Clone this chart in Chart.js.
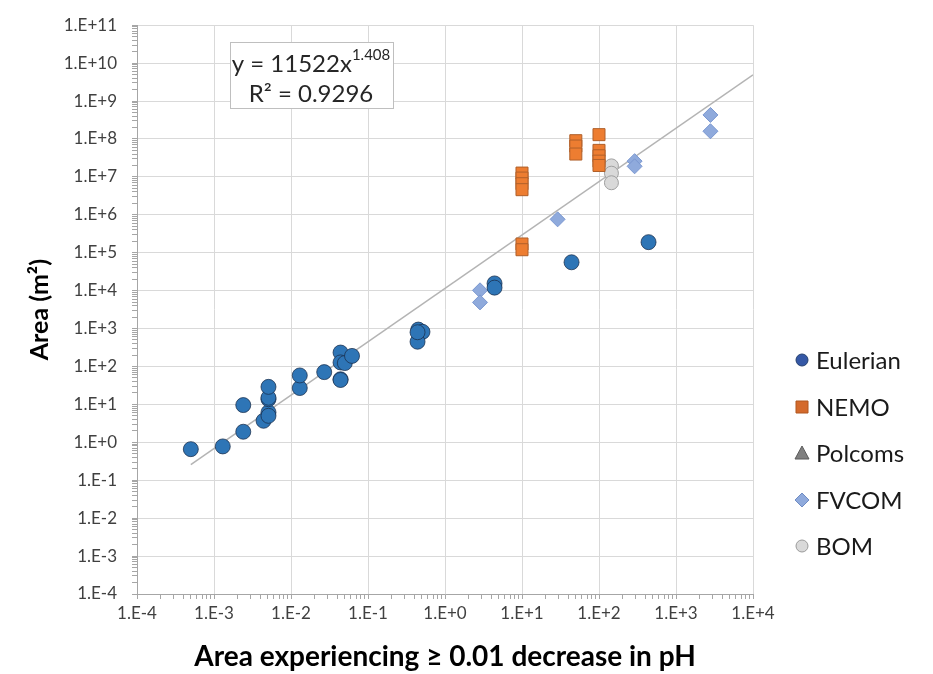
<!DOCTYPE html>
<html>
<head>
<meta charset="utf-8">
<title>Area vs decrease in pH</title>
<script src="https://cdn.jsdelivr.net/npm/chart.js@4.4.1/dist/chart.umd.min.js"></script>
<style>
  html, body { margin: 0; padding: 0; background: #fff; }
  #wrap { width: 933px; height: 674px; position: relative; }
</style>
</head>
<body>
<div id="wrap"><canvas id="chart1Canvas"></canvas></div>
<script>
// data (x = area with >= 0.01 pH decrease, y = area m2)
const eulerianX = [5e-4, 1.3e-3, 2.4e-3, 2.4e-3, 4.4e-3, 5.1e-3, 5.1e-3, 5.1e-3, 5.1e-3, 5.1e-3,
                   0.013, 0.013, 0.027, 0.044, 0.044, 0.044, 0.044, 0.05, 0.062,
                   0.45, 0.51, 0.44, 0.44, 4.4, 4.4, 44, 440];
const eulerianY = [0.66, 0.78, 1.9, 9.6, 3.7, 6.2, 5, 13.7, 15, 29,
                   27, 58, 71, 46, 44, 233, 128, 123, 190,
                   940, 820, 450, 800, 15500, 12000, 5.6e4, 1.9e5];
const nemoX = [10, 10, 10, 10, 10, 10, 50, 50, 50, 100, 100, 100, 100, 100];
const nemoY = [1.7e5, 1.2e5, 1.26e7, 9.3e6, 6.6e6, 4.6e6, 9e7, 6.5e7, 4e7, 1.3e8, 5e7, 3.6e7, 2.6e7, 2e7];
const polcomsX = [];
const polcomsY = [];
const fvcomX = [2.85, 2.85, 29, 290, 290, 2800, 2800];
const fvcomY = [10200, 4900, 7.6e5, 2.6e7, 1.9e7, 4.3e8, 1.6e8];
const bomX = [145, 145, 145];
const bomY = [1.95e7, 1.25e7, 7e6];

// power trendline shown on the chart
const trendA = 11522;
const trendB = 1.408;
const trendR2 = '0.9296';
const trendX = [5e-4, 1e4];

const seriesNames = ['Eulerian', 'NEMO', 'Polcoms', 'FVCOM', 'BOM'];

function pts(xs, ys) {
  return xs.map((x, i) => ({ x: x, y: ys[i] }));
}

function fmtExp(v) {
  const e = Math.round(Math.log10(v));
  return '1.E' + (e >= 0 ? '+' : '') + e;
}

// one major tick per decade, minor ticks 2..9 between
function decadeTicks(scale) {
  const lo = Math.round(Math.log10(scale.min));
  const hi = Math.round(Math.log10(scale.max));
  const ticks = [];
  for (let e = lo; e <= hi; e++) {
    ticks.push({ value: Math.pow(10, e), major: true });
    if (e < hi) {
      for (let m = 2; m <= 9; m++) ticks.push({ value: m * Math.pow(10, e), major: false });
    }
  }
  scale.ticks = ticks;
}

const gridColor = c => (c.tick && c.tick.major) ? '#d9d9d9' : 'rgba(0,0,0,0)';

// equation box + legend
const extras = {
  id: 'extras',
  afterDraw(chart) {
    const ctx = chart.ctx;
    ctx.save();
    // trendline label
    ctx.fillStyle = '#ffffff';
    ctx.fillRect(230, 42, 163, 66);
    ctx.strokeStyle = '#bfbfbf';
    ctx.lineWidth = 1;
    ctx.strokeRect(230.5, 42.5, 163, 66);
    ctx.fillStyle = '#262626';
    ctx.textBaseline = 'middle';
    const main = '24px Lato';
    const sup = '15px Lato';
    const t1 = 'y = ' + trendA + 'x';
    const t2 = trendB.toFixed(3);
    ctx.font = main;
    const w1 = ctx.measureText(t1).width;
    ctx.font = sup;
    const w2 = ctx.measureText(t2).width;
    let x0 = 311 - (w1 + w2) / 2;
    ctx.textAlign = 'left';
    ctx.font = main;
    ctx.fillText(t1, x0, 64);
    ctx.font = sup;
    ctx.fillText(t2, x0 + w1, 55);
    ctx.font = main;
    ctx.textAlign = 'center';
    ctx.fillText('R² = ' + trendR2, 311, 94);

    // legend
    const ys = [360, 407, 453, 500, 546];
    const mx = 802;
    ctx.font = '24px Lato';
    ctx.textAlign = 'left';
    ctx.lineWidth = 1;
    ys.forEach((y, i) => {
      ctx.beginPath();
      if (i === 0) {
        ctx.fillStyle = '#3558a6'; ctx.strokeStyle = '#24406f';
        ctx.arc(mx, y, 6, 0, Math.PI * 2);
      } else if (i === 1) {
        ctx.fillStyle = '#d46a2c'; ctx.strokeStyle = '#b0561f';
        ctx.rect(mx - 6, y - 6, 12, 12);
      } else if (i === 2) {
        ctx.fillStyle = '#808080'; ctx.strokeStyle = '#5a5a5a';
        ctx.moveTo(mx, y - 7); ctx.lineTo(mx + 7, y + 6); ctx.lineTo(mx - 7, y + 6); ctx.closePath();
      } else if (i === 3) {
        ctx.fillStyle = '#8faadc'; ctx.strokeStyle = '#6f8cc4';
        ctx.moveTo(mx, y - 7); ctx.lineTo(mx + 7, y); ctx.lineTo(mx, y + 7); ctx.lineTo(mx - 7, y); ctx.closePath();
      } else {
        ctx.fillStyle = '#d9d9d9'; ctx.strokeStyle = '#9a9a9a';
        ctx.arc(mx, y, 6, 0, Math.PI * 2);
      }
      ctx.fill();
      ctx.stroke();
      ctx.fillStyle = '#1a1a1a';
      ctx.fillText(seriesNames[i], 816, y + 1);
    });
    ctx.restore();
  }
};

const canvas = document.getElementById('chart1Canvas');
const myChart = new Chart(canvas.getContext('2d'), {
  type: 'scatter',
  data: {
    datasets: [
      {
        label: seriesNames[0],
        data: pts(eulerianX, eulerianY),
        pointStyle: 'circle', pointRadius: 7.5, pointHoverRadius: 7.5,
        backgroundColor: '#2e75b6', borderColor: 'rgba(25,45,75,0.75)', borderWidth: 1
      },
      {
        label: seriesNames[1],
        data: pts(nemoX, nemoY),
        pointStyle: 'rect', pointRadius: 8.5, pointHoverRadius: 8.5,
        backgroundColor: '#ed7d31', borderColor: '#b0602a', borderWidth: 1
      },
      {
        label: seriesNames[2],
        data: pts(polcomsX, polcomsY),
        pointStyle: 'triangle', pointRadius: 7,
        backgroundColor: '#808080', borderColor: '#5a5a5a', borderWidth: 1
      },
      {
        label: seriesNames[3],
        data: pts(fvcomX, fvcomY),
        pointStyle: 'rectRot', pointRadius: 7.5, pointHoverRadius: 7.5,
        backgroundColor: '#8faadc', borderColor: '#7a97d0', borderWidth: 1
      },
      {
        label: seriesNames[4],
        data: pts(bomX, bomY),
        pointStyle: 'circle', pointRadius: 7, pointHoverRadius: 7,
        backgroundColor: '#d9d9d9', borderColor: '#a0a0a0', borderWidth: 1
      },
      {
        type: 'line',
        label: 'Power trend',
        data: trendX.map(x => ({ x: x, y: trendA * Math.pow(x, trendB) })),
        borderColor: '#b4b4b4', borderWidth: 1.5,
        pointRadius: 0, fill: false, order: 10
      }
    ]
  },
  options: {
    responsive: true,
    maintainAspectRatio: false,
    animation: false,
    layout: { padding: { top: 17, right: 180, left: 0, bottom: 0 } },
    plugins: {
      legend: { display: false },
      tooltip: { enabled: false }
    },
    scales: {
      x: {
        type: 'logarithmic',
        min: 1e-4, max: 1e4,
        afterBuildTicks: decadeTicks,
        afterFit: s => { s.height = 80; },
        grid: { color: gridColor, tickColor: '#a6a6a6', tickLength: 5, lineWidth: 1 },
        border: { color: '#a6a6a6', width: 1 },
        ticks: {
          autoSkip: false, maxRotation: 0, minRotation: 0, padding: 4,
          color: '#404040', font: { family: 'Lato', size: 17 },
          callback: (v, i, t) => t[i].major ? fmtExp(v) : ''
        },
        title: {
          display: true,
          text: 'Area experiencing ≥ 0.01 decrease in pH',
          color: '#000', font: { family: 'Lato', size: 28, weight: 'bold' },
          padding: { top: 0, bottom: 0 }
        }
      },
      y: {
        type: 'logarithmic',
        min: 1e-4, max: 1e11,
        afterBuildTicks: decadeTicks,
        afterFit: s => { s.width = 137; },
        grid: { color: gridColor, tickColor: '#a6a6a6', tickLength: 5, lineWidth: 1 },
        border: { color: '#a6a6a6', width: 1 },
        ticks: {
          autoSkip: false, padding: 15,
          color: '#404040', font: { family: 'Lato', size: 17 },
          callback: (v, i, t) => t[i].major ? fmtExp(v) : ''
        },
        title: {
          display: true,
          text: 'Area (m²)',
          color: '#000', font: { family: 'Lato', size: 25, weight: 'bold' },
          padding: { top: 25, bottom: 0 }
        }
      }
    }
  },
  plugins: [extras]
});
</script>
</body>
</html>
